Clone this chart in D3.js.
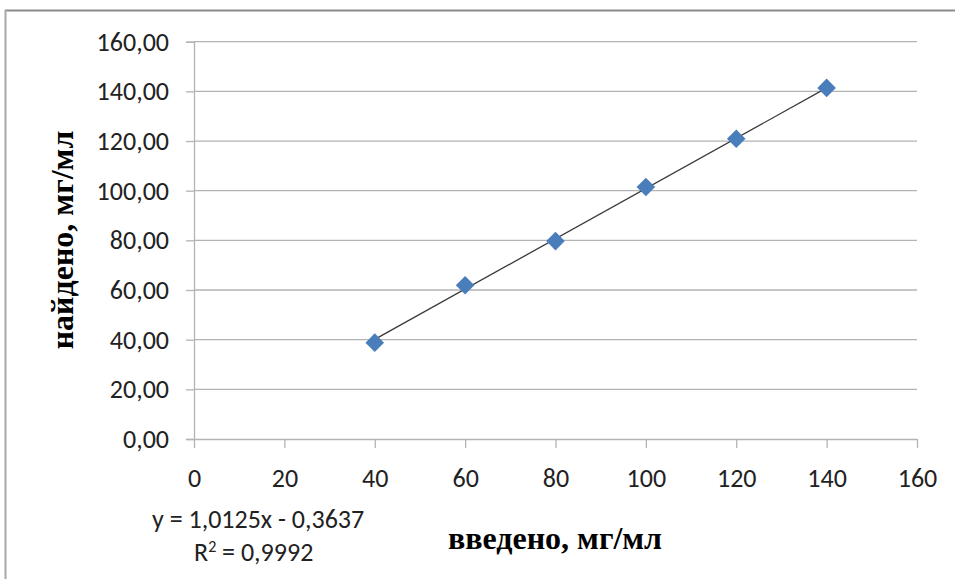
<!DOCTYPE html>
<html>
<head>
<meta charset="utf-8">
<script src="https://cdn.jsdelivr.net/npm/d3@7/dist/d3.min.js"></script>
<style>
  html, body { margin: 0; padding: 0; background: #fff; }
  svg { display: block; }
  .tick text { font-family: Carlito, Lato, "Open Sans", sans-serif; }
</style>
</head>
<body>
<svg id="chart" width="955" height="579"></svg>
<script>
// Calibration data: added vs found concentration, mg/ml
const added = [40, 60, 80, 100, 120, 140];
const found = [38.8, 61.9, 79.7, 101.5, 120.9, 141.4];

// Linear trendline coefficients
const slope = 1.0125;
const intercept = -0.3637;
const rSquared = 0.9992;

const xTicks = [0, 20, 40, 60, 80, 100, 120, 140, 160];
const yTicks = [0, 20, 40, 60, 80, 100, 120, 140, 160];

const fmtComma = (v, digits) => v.toFixed(digits).replace(".", ",");

const svg = d3.select("#chart");
const W = 955, H = 579;

// frame
svg.append("line").attr("x1", 5).attr("x2", W).attr("y1", 10.5).attr("y2", 10.5)
  .attr("stroke", "#8a8a8a").attr("stroke-width", 2);
svg.append("line").attr("x1", 5.5).attr("x2", 5.5).attr("y1", 10).attr("y2", H)
  .attr("stroke", "#a8a8a8").attr("stroke-width", 2);

const plotLeft = 194, plotRight = 917, plotTop = 41.7, plotBottom = 439;

const x = d3.scaleLinear().domain([0, 160]).range([plotLeft, plotRight]);
const y = d3.scaleLinear().domain([0, 160]).range([plotBottom, plotTop]);

// horizontal gridlines
svg.append("g")
  .selectAll("line")
  .data(yTicks.filter(d => d > 0))
  .join("line")
  .attr("x1", plotLeft).attr("x2", plotRight)
  .attr("y1", d => y(d)).attr("y2", d => y(d))
  .attr("stroke", "#b3b3b3").attr("stroke-width", 1.3);

// y axis
const yAxis = svg.append("g")
  .attr("transform", `translate(${plotLeft},0)`)
  .call(d3.axisLeft(y).tickValues(yTicks).tickFormat(d => fmtComma(d, 2)).tickSize(8).tickPadding(17));
yAxis.select(".domain").attr("stroke", "#b3b3b3").attr("stroke-width", 1.3);
yAxis.selectAll(".tick line").attr("stroke", "#b3b3b3").attr("stroke-width", 1.3);
yAxis.selectAll(".tick text").attr("font-size", 26).attr("fill", "#222");

// x axis
const xAxis = svg.append("g")
  .attr("transform", `translate(0,${plotBottom})`)
  .call(d3.axisBottom(x).tickValues(xTicks).tickFormat(d => d).tickSizeInner(9).tickSizeOuter(0).tickPadding(21));
xAxis.select(".domain").attr("stroke", "#b3b3b3").attr("stroke-width", 1.3);
xAxis.selectAll(".tick line").attr("stroke", "#b3b3b3").attr("stroke-width", 1.3);
xAxis.selectAll(".tick text").attr("font-size", 26).attr("fill", "#222");

// trendline across the data range
const xMin = d3.min(added), xMax = d3.max(added);
svg.append("line")
  .attr("x1", x(xMin)).attr("y1", y(slope * xMin + intercept))
  .attr("x2", x(xMax)).attr("y2", y(slope * xMax + intercept))
  .attr("stroke", "#3a3a3a").attr("stroke-width", 1.3);

// diamond markers
const diamond = d3.symbol().type(d3.symbolDiamond2).size(220);
svg.append("g")
  .selectAll("path")
  .data(added.map((a, i) => [a, found[i]]))
  .join("path")
  .attr("d", diamond)
  .attr("transform", d => `translate(${x(d[0])},${y(d[1])})`)
  .attr("fill", "#4a7ebb");

// axis titles
svg.append("text")
  .attr("x", 555).attr("y", 549)
  .attr("text-anchor", "middle")
  .attr("font-family", "'Liberation Serif', 'Times New Roman', serif")
  .attr("font-weight", "bold").attr("font-size", 32).attr("fill", "#000")
  .text("введено, мг/мл");

svg.append("text")
  .attr("transform", "translate(73,240) rotate(-90)")
  .attr("text-anchor", "middle")
  .attr("font-family", "'Liberation Serif', 'Times New Roman', serif")
  .attr("font-weight", "bold").attr("font-size", 32).attr("fill", "#000")
  .text("найдено, мг/мл");

// trendline equation
const eq = svg.append("g")
  .attr("font-family", "Carlito, Lato, 'Open Sans', sans-serif")
  .attr("font-size", 26).attr("fill", "#222");
eq.append("text").attr("x", 152).attr("y", 528)
  .text(`y = ${fmtComma(slope, 4)}x - ${fmtComma(Math.abs(intercept), 4)}`);
const r2 = eq.append("text").attr("x", 194).attr("y", 561);
r2.append("tspan").text("R");
r2.append("tspan").attr("baseline-shift", "super").attr("font-size", 16).text("2");
r2.append("tspan").text(` = ${fmtComma(rSquared, 4)}`);
</script>
</body>
</html>
